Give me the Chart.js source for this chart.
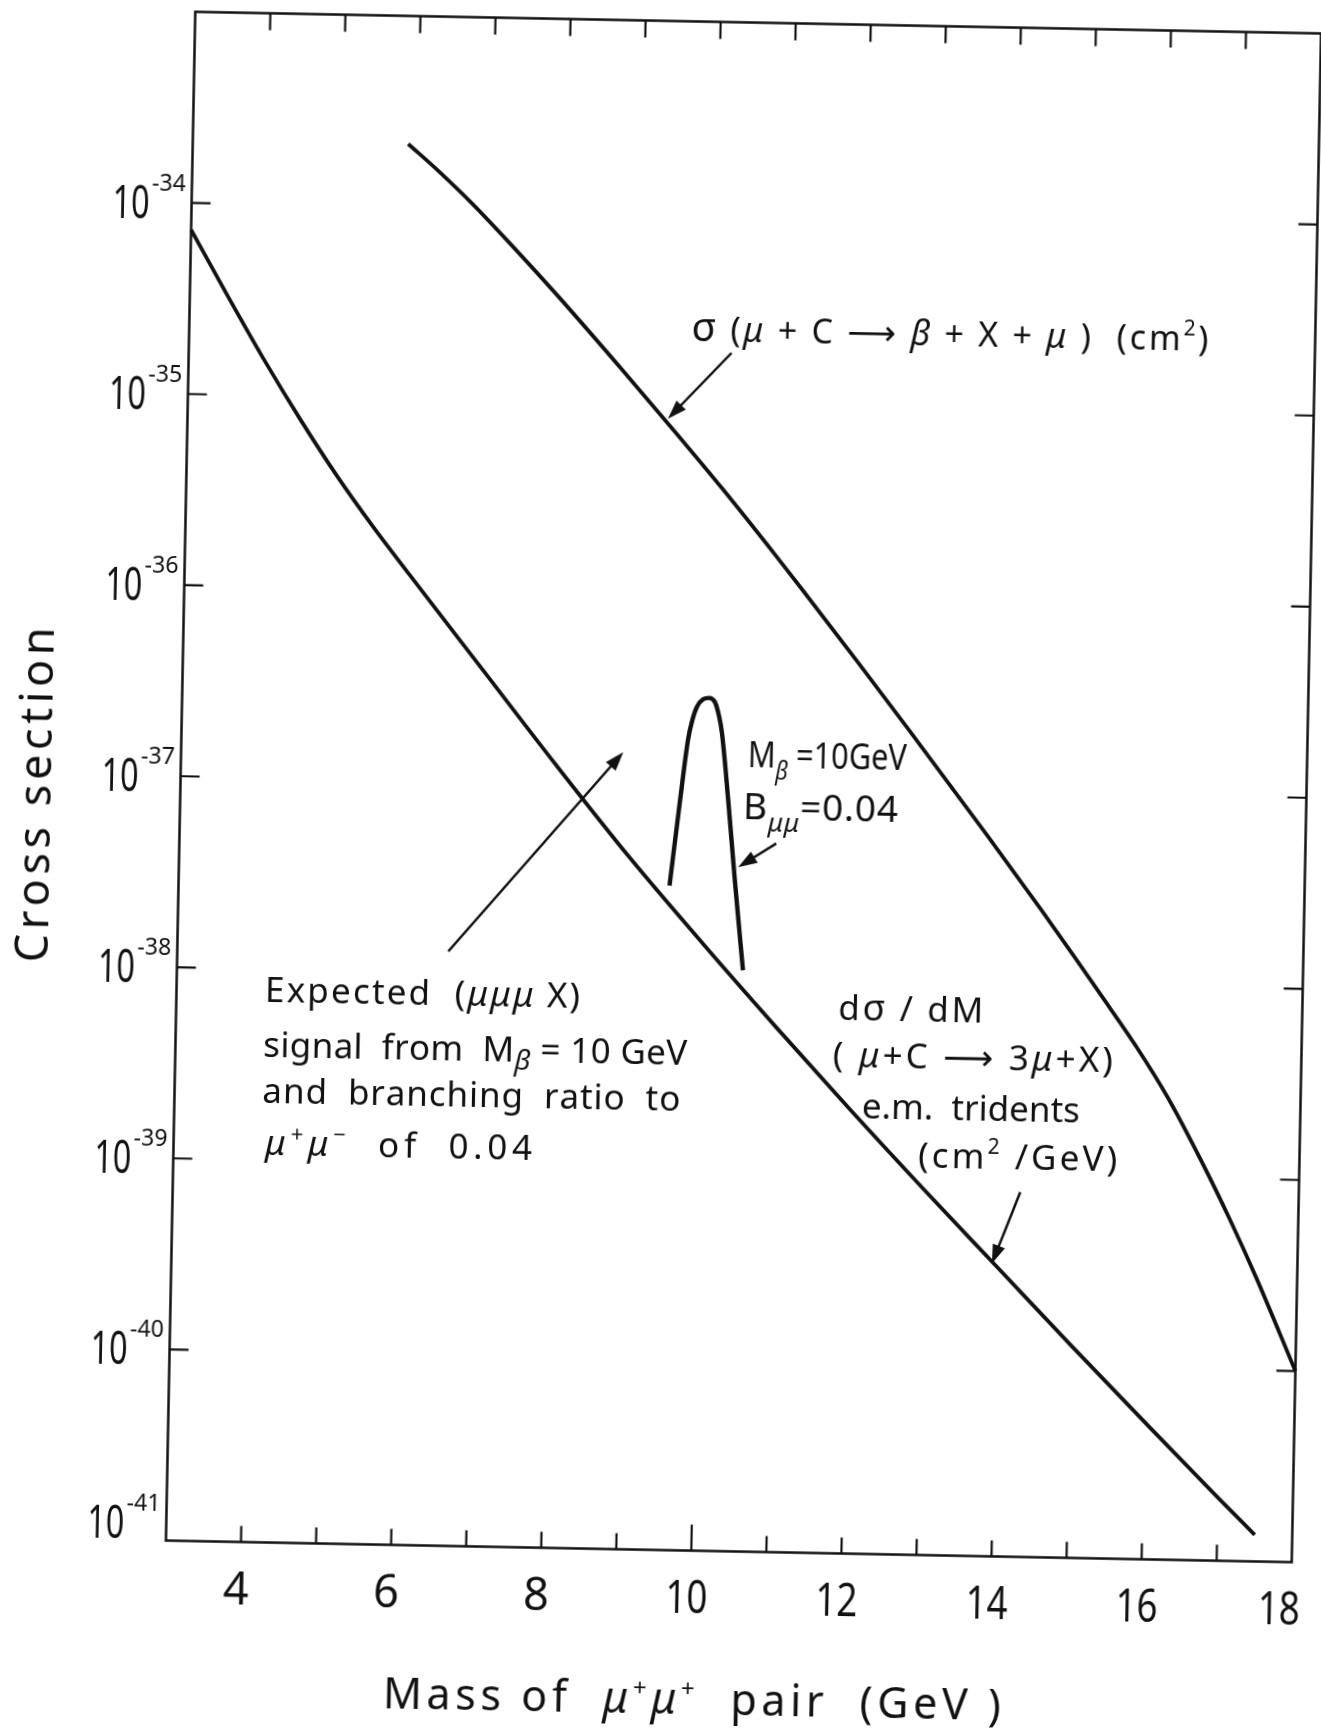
<!DOCTYPE html>
<html>
<head>
<meta charset="utf-8">
<title>Cross section vs mass of mu+mu+ pair</title>
<script src="https://cdn.jsdelivr.net/npm/chart.js@4.4.1/dist/chart.umd.min.js"></script>
<style>
html, body { margin:0; padding:0; background:#fff; width:1321px; height:1731px; overflow:hidden; }
#wrap { position:absolute; left:0; top:0; width:1360px; height:1731px; transform-origin:743.5px 787px; transform:rotate(1.1deg); }
#c { display:block; }
</style>
</head>
<body>
<div id="wrap"><canvas id="c" width="1360" height="1731"></canvas></div>
<script>
// ---------------- data (mass in GeV, cross sections in cm^2 or cm^2/GeV) ----------------
const massTrident = [3.0, 3.5, 4.0, 4.5, 5.0, 5.5, 6.0, 7.0, 8.0, 9.0, 10.0, 11.0, 12.0, 13.0, 14.0, 15.0, 16.0, 17.0, 17.5];
const xsecTrident = [7.24e-35, 3.31e-35, 1.55e-35, 7.59e-36, 3.89e-36, 2.11e-36, 1.19e-36, 3.85e-37, 1.245e-37, 4.17e-38, 1.50e-38, 5.56e-39, 2.11e-39, 8.22e-40, 3.27e-40, 1.30e-40, 5.25e-41, 2.14e-41, 1.38e-41];

const massSigma = [5.87, 6.3, 6.75, 7.3, 7.89, 8.79, 9.5, 10.15, 10.88, 11.29, 12.0, 12.70, 13.75, 14.5, 14.96, 15.30, 15.8, 16.22, 16.7, 17.09, 17.46, 18.0];
const xsecSigma = [2.14e-34, 1.53e-34, 1.047e-34, 6.31e-35, 3.59e-35, 1.462e-35, 7.08e-36, 3.59e-36, 1.62e-36, 1.023e-36, 4.57e-37, 2.04e-37, 5.96e-38, 2.43e-38, 1.38e-38, 9.02e-39, 4.79e-39, 2.66e-39, 1.216e-39, 6.1e-40, 3.02e-40, 1.0e-40];

const massSignal = [9.54, 9.66, 9.75, 9.80, 9.86, 9.94, 10.02, 10.10, 10.16, 10.20, 10.30, 10.41, 10.54];
const xsecSignal = [3.0e-38, 8.5e-38, 1.75e-37, 2.2e-37, 2.6e-37, 2.85e-37, 2.9e-37, 2.75e-37, 2.3e-37, 1.9e-37, 8.5e-38, 3.2e-38, 1.1e-38];

// ---------------- axes ----------------
const xMin = 3, xMax = 18;
const yMin = 1e-41, yMax = 1e-33;
const xMinorTicks = [4, 5, 6, 7, 8, 9, 10, 11, 12, 13, 14, 15, 16, 17];
const xLabelValues = [4, 6, 8, 10, 12, 14, 16, 18];
const xTickLabels = ['4', '6', '8', '10', '12', '14', '16', '18'];
const yDecadeValues = [1e-34, 1e-35, 1e-36, 1e-37, 1e-38, 1e-39, 1e-40, 1e-41];
const yExponentLabels = ['-34', '-35', '-36', '-37', '-38', '-39', '-40', '-41'];
const xTitleRuns = [{t:'Mass of  '}, {t:'\u03bc', it:1}, {t:'+', sz:24, dy:-17}, {t:'\u03bc', it:1}, {t:'+', sz:24, dy:-17}, {t:'  pair  (GeV )'}];
const yTitle = 'Cross section';

// ---------------- annotations (anchored in data units) ----------------
const notes = [
  {x: 9.69, y: 2.14e-35, sz: 34, w: 517, runs: [{t:'\u03c3', sz:40}, {t:' ('}, {t:'\u03bc', it:1}, {t:' + C \u27f6 '}, {t:'\u03b2', it:1}, {t:' + X + '}, {t:'\u03bc', it:1}, {t:' )  (cm'}, {t:'2', sz:21, dy:-15}, {t:')'}]},
  {x: 10.55, y: 1.27e-37, sz: 37, w: 159, runs: [{t:'M'}, {t:'\u03b2', it:1, sz:26, dy:12}, {t:' =10GeV'}]},
  {x: 10.50, y: 6.8e-38, sz: 37, w: 155, runs: [{t:'B'}, {t:'\u03bc\u03bc', it:1, sz:26, dy:12}, {t:'=0.04'}]},
  {x: 4.18, y: 6.71e-39, sz: 35, w: 315, runs: [{t:'Expected  ('}, {t:'\u03bc\u03bc\u03bc', it:1}, {t:' X)'}]},
  {x: 4.17, y: 3.46e-39, sz: 35, w: 424, runs: [{t:'signal  from  M'}, {t:'\u03b2', it:1, sz:28, dy:8}, {t:' = 10 GeV'}]},
  {x: 4.17, y: 1.99e-39, sz: 35, w: 418, runs: [{t:'and  branching  ratio  to'}]},
  {x: 4.22, y: 1.06e-39, sz: 35, w: 267, runs: [{t:'\u03bc', it:1}, {t:'+', sz:22, dy:-14}, {t:'\u03bc', it:1}, {t:'\u2212', sz:22, dy:-14}, {t:'  of  0.04'}]},
  {x: 11.82, y: 6.17e-39, sz: 35, w: 145, runs: [{t:'d'}, {t:'\u03c3', sz:37}, {t:' / dM'}]},
  {x: 11.76, y: 3.5e-39, sz: 35, w: 280, runs: [{t:'( '}, {t:'\u03bc', it:1}, {t:'+C \u27f6 3'}, {t:'\u03bc', it:1}, {t:'+X)'}]},
  {x: 12.16, y: 1.9e-39, sz: 35, w: 218, runs: [{t:'e.m.  tridents'}]},
  {x: 12.92, y: 1.07e-39, sz: 35, w: 199, runs: [{t:'(cm'}, {t:'2', sz:21, dy:-15}, {t:' /GeV)'}]}
];
const arrows = [
  {from: [10.23, 1.86e-35], to: [9.40, 8.3e-36]},
  {from: [6.61, 1.29e-38], to: [8.89, 1.48e-37]},
  {from: [10.95, 5.1e-38], to: [10.45, 3.8e-38]},
  {from: [14.29, 8.1e-40], to: [13.93, 3.4e-40]}
];

// ---------------- drawing helpers ----------------
const INK = '#111';
const FONT = '"Noto Sans", "DejaVu Sans", sans-serif';
function fontOf(r, base) { return (r.it ? 'italic ' : '') + (r.sz || base) + 'px ' + FONT; }
function richText(ctx, runs, x, y, base, target, align) {
  const chars = [];
  runs.forEach(r => {
    const f = fontOf(r, base);
    ctx.font = f;
    Array.from(r.t).forEach(ch => chars.push({ch, f, w: ctx.measureText(ch).width, dy: r.dy || 0}));
  });
  const nat = chars.reduce((s, c) => s + c.w, 0);
  let gap = 0, sx = 1;
  if (target) {
    if (target >= nat) gap = (target - nat) / Math.max(chars.length - 1, 1);
    else sx = target / nat;
  }
  const total = target || nat;
  let cx = align === 'center' ? x - total / 2 : (align === 'right' ? x - total : x);
  chars.forEach(c => {
    ctx.font = c.f;
    ctx.save();
    ctx.translate(cx, y + c.dy);
    ctx.scale(sx, 1);
    ctx.fillText(c.ch, 0, 0);
    ctx.restore();
    cx += c.w * sx + gap;
  });
}
function arrow(ctx, x1, y1, x2, y2) {
  const ang = Math.atan2(y2 - y1, x2 - x1), L = 19, W = 6.5;
  const bx = x2 - L * Math.cos(ang), by = y2 - L * Math.sin(ang);
  ctx.lineWidth = 2.5;
  ctx.beginPath(); ctx.moveTo(x1, y1); ctx.lineTo(bx + 2 * Math.cos(ang), by + 2 * Math.sin(ang)); ctx.stroke();
  ctx.beginPath();
  ctx.moveTo(x2, y2);
  ctx.lineTo(bx - W * Math.sin(ang), by + W * Math.cos(ang));
  ctx.lineTo(bx + W * Math.sin(ang), by - W * Math.cos(ang));
  ctx.closePath(); ctx.fill();
}

const overlay = {
  id: 'overlay',
  afterDatasetsDraw(chart) {
    const ctx = chart.ctx, a = chart.chartArea, xs = chart.scales.x, ys = chart.scales.y;
    ctx.save();
    ctx.strokeStyle = INK; ctx.fillStyle = INK;
    ctx.textAlign = 'left'; ctx.textBaseline = 'alphabetic';
    // frame
    ctx.lineWidth = 2.5;
    ctx.strokeRect(a.left, a.top, a.right - a.left, a.bottom - a.top);
    // ticks (inward)
    ctx.lineWidth = 2.2;
    ctx.beginPath();
    xMinorTicks.forEach(v => {
      const px = xs.getPixelForValue(v);
      const len = v === 10 ? 26 : 16;
      ctx.moveTo(px, a.bottom); ctx.lineTo(px, a.bottom - len);
      ctx.moveTo(px, a.top); ctx.lineTo(px, a.top + 17);
    });
    yDecadeValues.forEach(v => {
      if (v <= yMin) return;
      const py = ys.getPixelForValue(v);
      ctx.moveTo(a.left, py); ctx.lineTo(a.left + 19, py);
      ctx.moveTo(a.right, py); ctx.lineTo(a.right - 19, py);
    });
    ctx.stroke();
    // x tick labels
    xLabelValues.forEach((v, i) => {
      const px = xs.getPixelForValue(v);
      const lab = xTickLabels[i];
      richText(ctx, [{t: lab}], px - (v === xMax ? 12 : 4), a.bottom + 62, 45, lab.length > 1 ? 42 : 26, 'center');
    });
    // y tick labels 10^-n
    yDecadeValues.forEach((v, i) => {
      const py = ys.getPixelForValue(v) + (v <= yMin ? -18 : 0);
      richText(ctx, [{t: '10'}], a.left - 42, py + 16, 46, 37, 'right');
      richText(ctx, [{t: yExponentLabels[i]}], a.left - 40, py - 12, 23, 34, 'left');
    });
    // axis titles
    richText(ctx, xTitleRuns, a.left + 220, a.bottom + 163, 43, 618, 'left');
    ctx.save();
    ctx.translate(a.left - 130, a.top + 786);
    ctx.rotate(-Math.PI / 2);
    richText(ctx, [{t: yTitle}], 0, 0, 45, 335, 'center');
    ctx.restore();
    // annotations
    notes.forEach(n => {
      richText(ctx, n.runs, xs.getPixelForValue(n.x), ys.getPixelForValue(n.y), n.sz, n.w, 'left');
    });
    arrows.forEach(ar => {
      arrow(ctx, xs.getPixelForValue(ar.from[0]), ys.getPixelForValue(ar.from[1]),
                 xs.getPixelForValue(ar.to[0]), ys.getPixelForValue(ar.to[1]));
    });
    ctx.restore();
  }
};

function series(xv, yv) { return xv.map((m, i) => ({x: m, y: yv[i]})); }
const lineStyle = {borderColor: INK, pointRadius: 0, showLine: true, fill: false, cubicInterpolationMode: 'monotone', clip: false};

new Chart(document.getElementById('c'), {
  type: 'scatter',
  data: {
    datasets: [
      Object.assign({label: 'd\u03c3/dM (\u03bc+C \u2192 3\u03bc+X) e.m. tridents', data: series(massTrident, xsecTrident), borderWidth: 3.8}, lineStyle),
      Object.assign({label: '\u03c3(\u03bc+C \u2192 \u03b2+X+\u03bc)', data: series(massSigma, xsecSigma), borderWidth: 3.8}, lineStyle),
      Object.assign({label: 'Expected (\u03bc\u03bc\u03bcX) signal', data: series(massSignal, xsecSignal), borderWidth: 4.4}, lineStyle)
    ]
  },
  options: {
    responsive: false,
    animation: false,
    devicePixelRatio: 1,
    layout: {padding: {left: 180.5, top: 22.5, right: 53.5, bottom: 179.5}},
    plugins: {legend: {display: false}, tooltip: {enabled: false}, title: {display: false}},
    scales: {
      x: {type: 'linear', min: xMin, max: xMax, display: false},
      y: {type: 'logarithmic', min: yMin, max: yMax, display: false}
    }
  },
  plugins: [overlay]
});
</script>
</body>
</html>
